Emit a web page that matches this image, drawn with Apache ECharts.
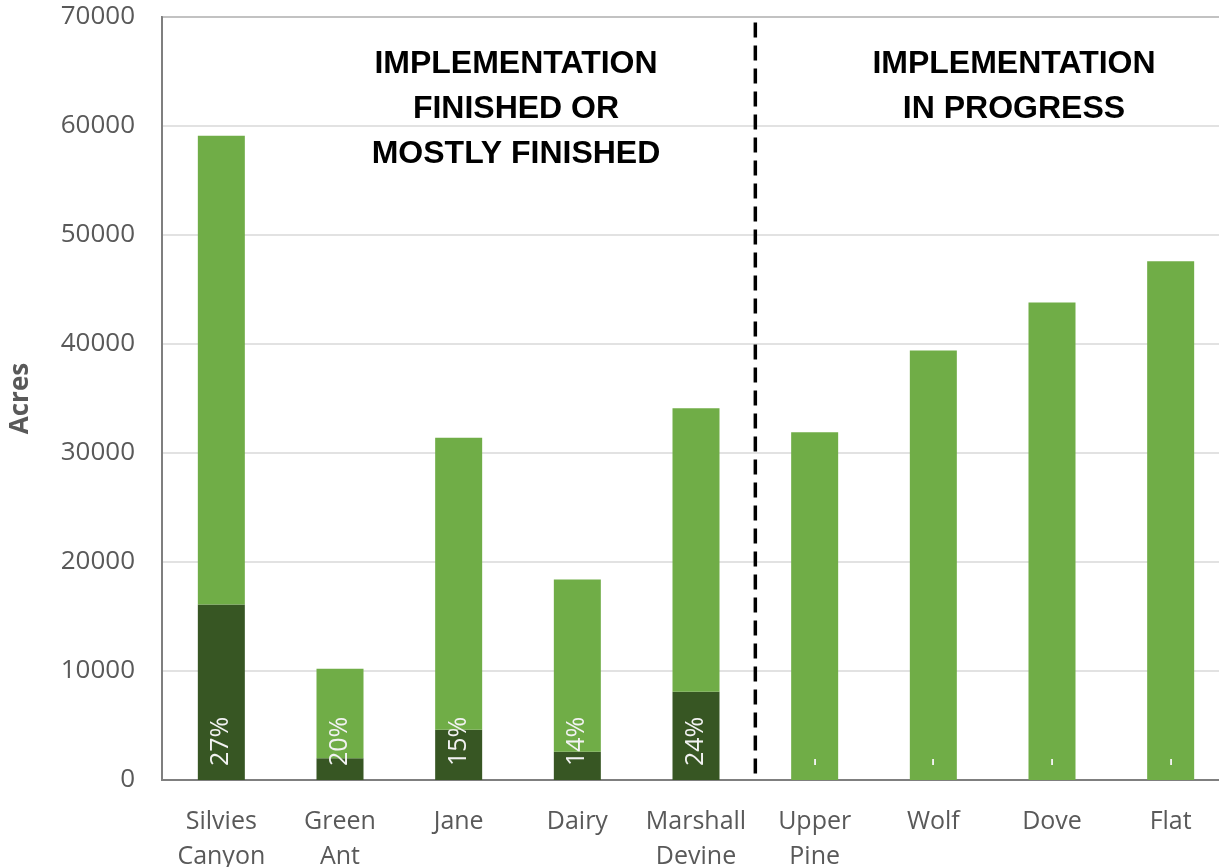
<!DOCTYPE html>
<html>
<head>
<meta charset="utf-8">
<script src="https://cdn.jsdelivr.net/npm/echarts@6/dist/echarts.min.js"></script>
<style>
  html, body { margin: 0; padding: 0; background: #fff; }
  #chart { width: 1219px; height: 867px; }
</style>
</head>
<body>
<div id="chart"></div>
<script>
const categories = ['Silvies\nCanyon', 'Green\nAnt', 'Jane', 'Dairy', 'Marshall\nDevine', 'Upper\nPine', 'Wolf', 'Dove', 'Flat'];
// acres treated (dark) and remaining (light), stacked
const treated = [16100, 2000, 4600, 2600, 8100, 0, 0, 0, 0];
const remaining = [43000, 8200, 26800, 15800, 26000, 31900, 39400, 43800, 47600];
const pctLabels = ['27%', '20%', '15%', '14%', '24%', '-', '-', '-', '-'];
const yTicks = [0, 10000, 20000, 30000, 40000, 50000, 60000, 70000];
// dashed divider between the two groups (category index 4.5)
const dividerLine = [[4.5, 69500], [4.5, 0]];

const chart = echarts.init(document.getElementById('chart'));
const gray = '#595959';
const font = 'Open Sans';

chart.setOption({
  animation: false,
  grid: {
    left: 162, top: 17, width: 1068, bottom: 87,
    outerBoundsMode: 'none',
    containLabel: false,
    show: true, borderColor: '#7f7f7f', borderWidth: 2
  },
  xAxis: [
    {
      type: 'category',
      data: categories,
      axisTick: { show: false },
      axisLine: { show: true, lineStyle: { color: '#7f7f7f', width: 2 } },
      axisLabel: {
        interval: 0, margin: 24, color: gray,
        fontFamily: font, fontSize: 25, lineHeight: 35
      }
    },
    { type: 'value', min: -0.5, max: 8.5, show: false }
  ],
  yAxis: {
    type: 'value',
    min: yTicks[0],
    max: yTicks[yTicks.length - 1],
    interval: 10000,
    name: 'Acres',
    nameLocation: 'middle',
    nameGap: 128,
    nameTextStyle: { color: gray, fontFamily: font, fontSize: 26, fontWeight: 'bold' },
    axisLine: { show: true, onZero: false, lineStyle: { color: '#7f7f7f', width: 2 } },
    axisTick: { show: false },
    axisLabel: {
      margin: 27, color: gray, fontFamily: font, fontSize: 26,
      formatter: (v) => String(v)
    },
    splitLine: { lineStyle: { color: '#d9d9d9', width: 1.5 } }
  },
  series: [
    {
      name: 'Treated',
      type: 'bar',
      stack: 'acres',
      data: treated,
      barWidth: 47,
      itemStyle: { color: '#375623' },
      label: {
        show: true,
        position: 'insideBottom',
        distance: 14,
        rotate: 90,
        align: 'left',
        verticalAlign: 'middle',
        color: '#f2f2f2',
        fontFamily: font,
        fontSize: 25,
        formatter: (p) => pctLabels[p.dataIndex]
      }
    },
    {
      name: 'Remaining',
      type: 'bar',
      stack: 'acres',
      data: remaining,
      barWidth: 47,
      itemStyle: { color: '#70ad47' }
    },
    {
      name: 'divider',
      type: 'line',
      xAxisIndex: 1,
      data: dividerLine,
      symbol: 'none',
      silent: true,
      lineStyle: { color: '#000', width: 3.5, type: [15, 8] }
    }
  ],
  graphic: [
    {
      type: 'text', x: 516, y: 42,
      style: {
        text: 'IMPLEMENTATION\nFINISHED OR\nMOSTLY FINISHED',
        fill: '#000', font: 'bold 32px "Liberation Sans"',
        lineHeight: 45, align: 'center', verticalAlign: 'top'
      }
    },
    {
      type: 'text', x: 1014, y: 42,
      style: {
        text: 'IMPLEMENTATION\nIN PROGRESS',
        fill: '#000', font: 'bold 32px "Liberation Sans"',
        lineHeight: 45, align: 'center', verticalAlign: 'top'
      }
    }
  ]
});
</script>
</body>
</html>
